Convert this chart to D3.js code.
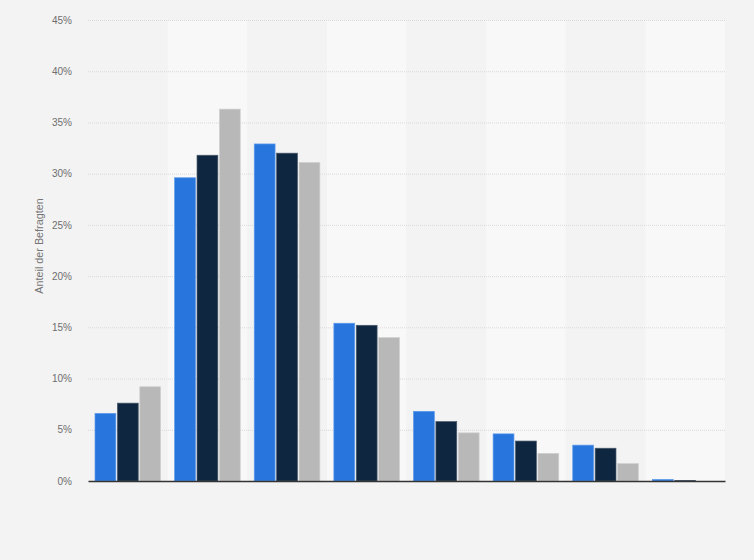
<!DOCTYPE html>
<html>
<head>
<meta charset="utf-8">
<script src="https://cdn.jsdelivr.net/npm/d3@7"></script>
<style>
  html, body { margin: 0; padding: 0; background: #f3f3f3; }
  svg { display: block; font-family: "Liberation Sans", Arial, sans-serif; }
</style>
</head>
<body>
<div id="chart"></div>
<script>
// data
var categories = ["1", "2", "3", "4", "5", "6", "7", "8"];
var seriesNames = ["Serie 1", "Serie 2", "Serie 3"];
var seriesA = [6.6, 29.6, 32.9, 15.4, 6.8, 4.6, 3.5, 0.15];
var seriesB = [7.6, 31.8, 32.0, 15.2, 5.8, 3.9, 3.2, 0.05];
var seriesC = [9.2, 36.3, 31.1, 14.0, 4.7, 2.7, 1.7, 0];
var yTicks = [0, 5, 10, 15, 20, 25, 30, 35, 40, 45];
var colors = ["#2876dd", "#0f2640", "#b8b8b8"];
var strokes = ["#5c9aec", "#4a5a6c", "#d0d0d0"];

var width = 754, height = 560;
var margin = {top: 20, right: 29, bottom: 79, left: 88};
var innerW = width - margin.left - margin.right,
    innerH = height - margin.top - margin.bottom;

var svg = d3.select("#chart").append("svg")
    .attr("width", width).attr("height", height);

var g = svg.append("g").attr("transform", "translate(" + margin.left + "," + margin.top + ")");

var x = d3.scaleBand().domain(categories).range([0, innerW]);
var x1 = d3.scaleBand().domain(seriesNames).range([7, x.bandwidth() - 7]).paddingInner(0.07);
var y = d3.scaleLinear().domain([0, 45]).range([innerH, 0]);

// background stripes
g.append("g").selectAll("rect").data(categories).enter().append("rect")
    .attr("x", function(d) { return x(d); })
    .attr("y", 0)
    .attr("width", x.bandwidth())
    .attr("height", innerH)
    .attr("fill", function(d, i) { return i % 2 ? "#f8f8f8" : "#f3f3f3"; });

// grid
g.append("g").attr("class", "grid")
    .call(d3.axisLeft(y).tickValues(yTicks.slice(1)).tickSize(-innerW).tickFormat(""))
    .call(function(s) {
        s.select(".domain").remove();
        s.selectAll("line").attr("stroke", "#d9d9d9").attr("stroke-dasharray", "1,1");
    });

// y axis labels
g.append("g")
    .call(d3.axisLeft(y).tickValues(yTicks).tickSize(0).tickPadding(16).tickFormat(function(d) { return d + "%"; }))
    .call(function(s) {
        s.select(".domain").remove();
        s.selectAll("text").attr("fill", "#6e6e6e").attr("font-size", "10px");
    });

svg.append("text")
    .attr("transform", "translate(43,246) rotate(-90)")
    .attr("text-anchor", "middle")
    .attr("fill", "#757575")
    .attr("font-size", "10.8px")
    .text("Anteil der Befragten");

// bars
var rows = categories.map(function(c, i) {
    return [seriesA[i], seriesB[i], seriesC[i]];
});

var groups = g.append("g").selectAll("g").data(rows).enter().append("g")
    .attr("transform", function(d, i) { return "translate(" + x(categories[i]) + ",0)"; });

groups.selectAll("rect").data(function(d) { return d; }).enter().append("rect")
    .attr("x", function(d, j) { return x1(seriesNames[j]); })
    .attr("y", function(d) { return y(d); })
    .attr("width", x1.bandwidth())
    .attr("height", function(d) { return innerH - y(d); })
    .attr("fill", function(d, j) { return colors[j]; })
    .attr("stroke", function(d, j) { return strokes[j]; })
    .attr("stroke-width", 0.7);

// x axis line
g.append("g").attr("transform", "translate(0," + innerH + ")")
    .call(d3.axisBottom(x).tickSize(0).tickFormat(""))
    .call(function(s) {
        s.select(".domain").attr("stroke", "#333").attr("stroke-width", 1.3);
    });
</script>
</body>
</html>
